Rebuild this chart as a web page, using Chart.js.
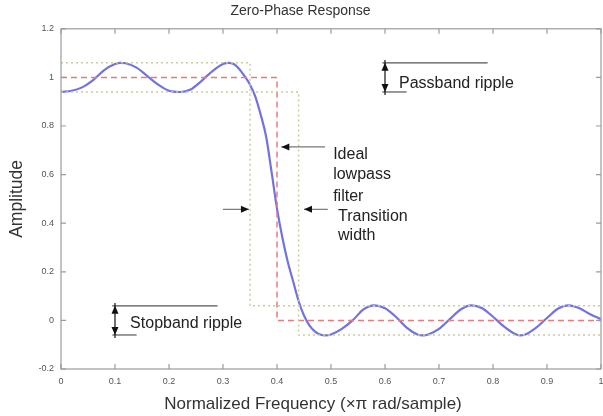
<!DOCTYPE html>
<html>
<head>
<meta charset="utf-8">
<script src="https://cdn.jsdelivr.net/npm/chart.js@4"></script>
<style>
  html, body { margin: 0; padding: 0; background: #fff; }
</style>
</head>
<body>
<canvas id="chart" width="603" height="416"></canvas>
<script>
// --- data ---
const freq = [0, 0.02, 0.04, 0.06, 0.08, 0.10, 0.11, 0.12, 0.14, 0.16, 0.18, 0.20, 0.22, 0.24, 0.26, 0.28, 0.30, 0.31, 0.32, 0.33, 0.34, 0.35, 0.36, 0.37, 0.38, 0.39, 0.40, 0.41, 0.42, 0.43, 0.44, 0.45, 0.46, 0.47, 0.48, 0.49, 0.50, 0.52, 0.54, 0.56, 0.58, 0.60, 0.62, 0.64, 0.66, 0.67, 0.68, 0.70, 0.72, 0.74, 0.76, 0.78, 0.80, 0.82, 0.84, 0.85, 0.86, 0.88, 0.90, 0.92, 0.94, 0.96, 0.98, 1.00];
const response = [0.94, 0.945, 0.96, 0.99, 1.03, 1.055, 1.06, 1.058, 1.04, 1.005, 0.97, 0.945, 0.94, 0.95, 0.985, 1.025, 1.055, 1.06, 1.055, 1.035, 1.005, 0.97, 0.92, 0.845, 0.755, 0.61, 0.46, 0.34, 0.24, 0.16, 0.08, 0.02, -0.02, -0.045, -0.058, -0.062, -0.058, -0.035, 0.0, 0.045, 0.062, 0.05, 0.015, -0.03, -0.058, -0.062, -0.058, -0.035, 0.005, 0.045, 0.062, 0.05, 0.015, -0.025, -0.055, -0.062, -0.058, -0.03, 0.01, 0.048, 0.062, 0.05, 0.025, 0.005];

const idealFreq = [0, 0.4, 0.4, 1];
const idealAmp = [1, 1, 0, 0];
const upperFreq = [0, 0.35, 0.35, 1];
const upperAmp = [1.06, 1.06, 0.06, 0.06];
const lowerFreq = [0, 0.44, 0.44, 1];
const lowerAmp = [0.94, 0.94, -0.06, -0.06];

const xTicks = [0, 0.1, 0.2, 0.3, 0.4, 0.5, 0.6, 0.7, 0.8, 0.9, 1];
const yTicks = [-0.2, 0, 0.2, 0.4, 0.6, 0.8, 1, 1.2];

const toPoints = (xs, ys) => xs.map((x, i) => ({ x: x, y: ys[i] }));
const FONT = '"Liberation Sans", Arial, sans-serif';

// box, inward ticks, annotations and x label
const figurePlugin = {
    id: 'figure',
    afterDatasetsDraw(chart) {
        const { ctx, chartArea: a, scales: { x, y } } = chart;
        const px = v => x.getPixelForValue(v);
        const py = v => y.getPixelForValue(v);
        ctx.save();

        // axes box
        ctx.strokeStyle = '#9c9c9c';
        ctx.lineWidth = 1.2;
        ctx.strokeRect(a.left, a.top, a.right - a.left, a.bottom - a.top);
        ctx.beginPath();
        xTicks.forEach(v => {
            const p = px(v);
            ctx.moveTo(p, a.bottom); ctx.lineTo(p, a.bottom - 5);
            ctx.moveTo(p, a.top); ctx.lineTo(p, a.top + 5);
        });
        yTicks.forEach(v => {
            const p = py(v);
            ctx.moveTo(a.left, p); ctx.lineTo(a.left + 5, p);
            ctx.moveTo(a.right, p); ctx.lineTo(a.right - 5, p);
        });
        ctx.stroke();

        // arrow helpers
        const head = (tx, ty, ang) => {
            ctx.beginPath();
            ctx.moveTo(tx, ty);
            ctx.lineTo(tx - 8 * Math.cos(ang) + 3.5 * Math.sin(ang), ty - 8 * Math.sin(ang) - 3.5 * Math.cos(ang));
            ctx.lineTo(tx - 8 * Math.cos(ang) - 3.5 * Math.sin(ang), ty - 8 * Math.sin(ang) + 3.5 * Math.cos(ang));
            ctx.closePath();
            ctx.fillStyle = '#111';
            ctx.fill();
        };
        const arrow = (x1, y1, x2, y2) => {
            const X1 = px(x1), Y1 = py(y1), X2 = px(x2), Y2 = py(y2);
            ctx.strokeStyle = '#777';
            ctx.lineWidth = 1.2;
            ctx.beginPath(); ctx.moveTo(X1, Y1); ctx.lineTo(X2, Y2); ctx.stroke();
            head(X2, Y2, Math.atan2(Y2 - Y1, X2 - X1));
        };
        const line = (x1, y1, x2, y2, c) => {
            ctx.strokeStyle = c;
            ctx.lineWidth = 1.2;
            ctx.beginPath(); ctx.moveTo(px(x1), py(y1)); ctx.lineTo(px(x2), py(y2)); ctx.stroke();
        };
        const ripple = (xv, top, bot, lineEnd) => {
            line(xv - 0.005, top, lineEnd, top, '#555');
            line(xv - 0.005, bot, xv + 0.04, bot, '#555');
            line(xv, top + 0.012, xv, bot - 0.012, '#111');
            head(px(xv), py(top), -Math.PI / 2);
            head(px(xv), py(bot), Math.PI / 2);
        };

        ctx.font = '16px ' + FONT;
        ctx.textAlign = 'left';
        ctx.textBaseline = 'middle';

        // passband ripple
        ripple(0.6, 1.06, 0.94, 0.79);
        ctx.fillStyle = '#222';
        ctx.fillText('Passband ripple', px(0.626), py(0.976));

        // stopband ripple
        ripple(0.1, 0.06, -0.06, 0.29);
        ctx.fillStyle = '#222';
        ctx.fillText('Stopband ripple', px(0.128), py(-0.012));

        // ideal lowpass filter
        arrow(0.489, 0.714, 0.408, 0.714);
        ctx.fillStyle = '#222';
        ctx.fillText('Ideal', px(0.504), py(0.682));
        ctx.fillText('lowpass', px(0.504), py(0.6));
        ctx.fillText('filter', px(0.504), py(0.51));

        // transition width
        arrow(0.30, 0.457, 0.348, 0.457);
        arrow(0.494, 0.457, 0.45, 0.457);
        ctx.fillStyle = '#222';
        ctx.fillText('Transition', px(0.513), py(0.429));
        ctx.fillText('width', px(0.513), py(0.347));

        // x axis label
        ctx.font = '17px ' + FONT;
        ctx.fillStyle = '#333';
        ctx.textAlign = 'center';
        ctx.fillText('Normalized Frequency (\u00d7\u03c0 rad/sample)', 313, 404);
        ctx.restore();
    }
};

new Chart(document.getElementById('chart').getContext('2d'), {
    type: 'line',
    data: {
        datasets: [
            {
                label: 'Upper bound',
                data: toPoints(upperFreq, upperAmp),
                borderColor: '#c9cd9c',
                borderWidth: 1.5,
                borderDash: [2, 3],
                pointRadius: 0,
                tension: 0
            },
            {
                label: 'Lower bound',
                data: toPoints(lowerFreq, lowerAmp),
                borderColor: '#c9cd9c',
                borderWidth: 1.5,
                borderDash: [2, 3],
                pointRadius: 0,
                tension: 0
            },
            {
                label: 'Ideal lowpass',
                data: toPoints(idealFreq, idealAmp),
                borderColor: '#e77c7c',
                borderWidth: 1.5,
                borderDash: [6, 4],
                pointRadius: 0,
                tension: 0
            },
            {
                label: 'Zero-phase response',
                data: toPoints(freq, response),
                borderColor: '#7272e0',
                borderWidth: 2.2,
                pointRadius: 0,
                cubicInterpolationMode: 'monotone'
            }
        ]
    },
    options: {
        responsive: false,
        animation: false,
        layout: { padding: { right: 2 } },
        plugins: {
            legend: { display: false },
            tooltip: { enabled: false },
            title: {
                display: true,
                text: 'Zero-Phase Response',
                color: '#333',
                font: { family: FONT, size: 14, weight: 'normal' },
                padding: { top: 3, bottom: 9 }
            }
        },
        scales: {
            x: {
                type: 'linear',
                min: 0,
                max: 1,
                grid: { display: false, drawTicks: false },
                border: { display: false },
                afterBuildTicks: s => { s.ticks = xTicks.map(v => ({ value: v })); },
                afterFit: s => { s.height = 47; s.paddingLeft = 0; s.paddingRight = 0; },
                ticks: {
                    color: '#555',
                    padding: 7,
                    maxRotation: 0,
                    font: { family: FONT, size: 9 },
                    callback: v => String(v)
                }
            },
            y: {
                min: -0.2,
                max: 1.2,
                grid: { display: false, drawTicks: false },
                border: { display: false },
                afterBuildTicks: s => { s.ticks = yTicks.map(v => ({ value: v })); },
                afterFit: s => { s.width = 61; },
                ticks: {
                    color: '#555',
                    padding: 7,
                    font: { family: FONT, size: 9 },
                    callback: v => String(v)
                },
                title: {
                    display: true,
                    text: 'Amplitude',
                    color: '#333',
                    font: { family: FONT, size: 17.5 },
                    padding: { top: 7, bottom: 0 }
                }
            }
        }
    },
    plugins: [figurePlugin]
});
</script>
</body>
</html>
